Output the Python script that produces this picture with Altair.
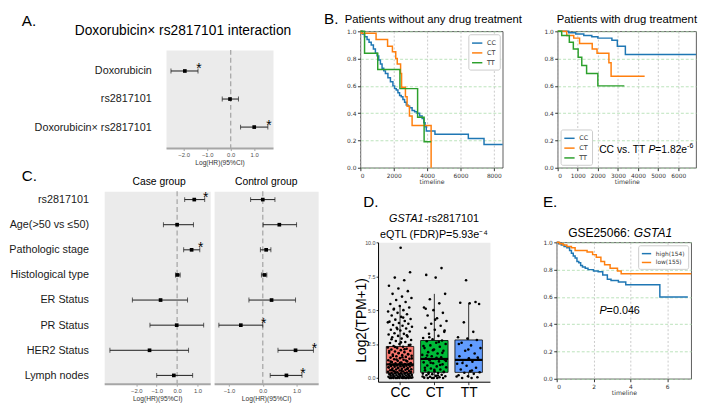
import altair as alt
import pandas as pd

FONT = "Liberation Sans"
MPL = "DejaVu Sans"

# ---------------- Panel A data ----------------
a_terms = ["Doxorubicin", "rs2817101", "Doxorubicin\u00d7 rs2817101"]
a_est = [-1.95, -0.03, 1.0]
a_lo = [-2.54, -0.36, 0.42]
a_hi = [-1.39, 0.33, 1.58]
a_star = [1, 0, 1]

# ---------------- Panel C data ----------------
c_terms = ["rs2817101", "Age(>50 vs \u226450)", "Pathologic stage", "Histological type",
           "ER Status", "PR Status", "HER2 Status", "Lymph nodes"]
case_est = [0.84, 0.0, 0.71, 0.02, -0.81, -0.02, -1.35, -0.16]
case_lo = [0.37, -0.67, 0.32, -0.08, -2.19, -1.33, -3.29, -1.0]
case_hi = [1.35, 0.8, 1.11, 0.15, 0.51, 1.3, 0.56, 0.76]
case_star = [1, 0, 1, 0, 0, 0, 0, 0]
ctrl_est = [0.0, 0.49, 0.1, 0.05, 0.26, -0.65, 0.97, 0.7]
ctrl_lo = [-0.36, 0.01, -0.07, -0.04, -0.41, -1.3, 0.45, 0.22]
ctrl_hi = [0.36, 1.0, 0.24, 0.12, 0.97, 0.0, 1.5, 1.16]
ctrl_star = [0, 0, 0, 0, 0, 1, 1, 1]

# ---------------- Panel B data ----------------
geno = ["CC", "CT", "TT"]
km_colors = ["#1f77b4", "#ff7f0e", "#2ca02c"]

bl_cc_t = [0, 120, 250, 400, 520, 650, 780, 900, 1000, 1100, 1200, 1300, 1400, 1500, 1650, 1800,
           1950, 2050, 2150, 2250, 2350, 2450, 2550, 2650, 2750, 2850, 2950, 3100, 3250, 3400,
           3550, 3700, 3800, 3880, 3950, 4470, 6470, 7410, 8530]
bl_cc_s = [1.0, 0.98, 0.96, 0.94, 0.92, 0.90, 0.87, 0.84, 0.82, 0.79, 0.76, 0.73, 0.71, 0.69,
           0.66, 0.63, 0.60, 0.58, 0.57, 0.55, 0.53, 0.52, 0.50, 0.48, 0.46, 0.45, 0.44, 0.42,
           0.41, 0.40, 0.38, 0.36, 0.33, 0.30, 0.27, 0.245, 0.215, 0.17, 0.17]
bl_ct_t = [0, 60, 940, 1630, 1920, 2120, 2210, 2410, 2470, 2700, 2800, 2940, 3100, 4240]
bl_ct_s = [1.0, 0.985, 0.94, 0.89, 0.85, 0.80, 0.76, 0.69, 0.59, 0.52, 0.45, 0.38, 0.31, 0.0]
bl_tt_t = [0, 250, 1040, 2370, 3430, 3820, 4240]
bl_tt_s = [1.0, 0.84, 0.72, 0.58, 0.37, 0.19, 0.19]

br_cc_t = [0, 550, 900, 1300, 1700, 2000, 2700, 2970, 3370, 6890]
br_cc_s = [1.0, 0.99, 0.98, 0.97, 0.96, 0.95, 0.935, 0.89, 0.83, 0.83]
br_ct_t = [0, 450, 800, 1090, 1720, 1960, 2550, 2660, 4330]
br_ct_s = [1.0, 0.97, 0.95, 0.91, 0.87, 0.84, 0.77, 0.67, 0.67]
br_tt_t = [0, 200, 580, 780, 1020, 1200, 1440, 2000, 3320]
br_tt_s = [1.0, 0.97, 0.92, 0.87, 0.81, 0.75, 0.69, 0.60, 0.60]

# ---------------- Panel D data ----------------
d_pos = [1, 2, 3]
d_whislo = [0.0, 0.0, 0.0]
d_q1 = [0.35, 0.41, 0.41]
d_med = [1.0, 1.4, 1.33]
d_q3 = [2.32, 2.76, 2.8]
d_whishi = [5.3, 6.2, 5.5]
d_colors = ["#F8766D", "#00BA38", "#619CFF"]
cc_vals = [0, 0, 0, 0, 0, 0, 0, 0.01, 0.02, 0.03, 0.05, 0.06, 0.08, 0.1, 0.11, 0.13, 0.15, 0.17,
           0.18, 0.2, 0.22, 0.24, 0.25, 0.27, 0.29, 0.3, 0.31, 0.33, 0.34, 0.35,
           0.37, 0.4, 0.42, 0.45, 0.47, 0.5, 0.52, 0.55, 0.57, 0.6, 0.62, 0.64, 0.67, 0.7, 0.72,
           0.74, 0.77, 0.8, 0.82, 0.84, 0.86, 0.88, 0.9, 0.92, 0.94, 0.95, 0.97, 0.98, 0.99, 1.0,
           1.03, 1.07, 1.1, 1.14, 1.18, 1.22, 1.26, 1.3, 1.34, 1.38, 1.42, 1.46, 1.5, 1.55, 1.6,
           1.64, 1.68, 1.72, 1.77, 1.82, 1.86, 1.9, 1.95, 2.0, 2.05, 2.1, 2.15, 2.2, 2.25, 2.3,
           2.36, 2.42, 2.5, 2.58, 2.65, 2.72, 2.8, 2.9, 3.0, 3.05, 3.1, 3.2, 3.25, 3.3, 3.42, 3.5,
           3.55, 3.65, 3.7, 3.78, 3.85, 3.9, 4.0, 4.05, 4.15, 4.2, 4.3, 4.35, 4.5, 4.6, 4.7, 4.8,
           4.9, 5.0, 5.1, 5.2, 5.3, 5.45, 5.6, 5.75, 5.9, 6.0, 6.2, 6.4, 6.6, 6.8, 7.2, 7.4, 7.8, 9.6,
           0, 0, 0, 0.04, 0.09, 0.14, 0.19, 0.23, 0.28, 0.36, 0.41, 0.46, 0.53, 0.58, 0.66, 0.73,
           0.79, 0.87, 0.93, 1.05, 1.12, 1.2, 1.28, 1.36, 1.44, 1.52, 1.62, 1.74, 1.84, 1.98, 2.12,
           2.28, 2.45, 2.62, 2.85, 3.15, 3.6, 4.1, 4.45, 5.05]
ct_vals = [0, 0, 0, 0, 0.02, 0.05, 0.08, 0.12, 0.15, 0.2, 0.24, 0.28, 0.32, 0.36, 0.4, 0.45, 0.5,
           0.56, 0.62, 0.7, 0.78, 0.85, 0.92, 1.0, 1.08, 1.15, 1.22, 1.3, 1.35, 1.4, 1.45, 1.52,
           1.6, 1.7, 1.8, 1.9, 2.0, 2.1, 2.2, 2.3, 2.4, 2.5, 2.6, 2.7, 2.76, 2.85, 2.95, 3.1, 3.25,
           3.4, 3.55, 3.7, 3.85, 4.0, 4.2, 4.4, 4.6, 4.8, 5.0, 5.2, 5.5, 5.8, 6.2, 7.4, 7.6, 8.1,
           0, 0.1, 0.18, 0.3, 0.43, 0.6, 0.75, 0.95, 1.12, 1.25, 1.48, 1.65, 1.85, 2.05, 2.35,
           2.65, 3.0, 3.5, 4.3, 5.1]
tt_vals = [0, 0, 0.05, 0.12, 0.2, 0.3, 0.38, 0.42, 0.5, 0.62, 0.75, 0.9, 1.05, 1.2, 1.3, 1.35, 1.45,
           1.6, 1.8, 2.0, 2.2, 2.4, 2.6, 2.8, 2.9, 3.0, 3.4, 4.1, 5.45, 5.5, 5.55, 5.6, 7.2,
           0.1, 0.55, 1.1, 1.5, 2.1, 2.5]

# ---------------- Panel E data ----------------
e_groups = ["high(154)", "low(155)"]
e_high_t = [0, 0.1, 0.25, 0.4, 0.55, 0.7, 0.8, 0.9, 1.0, 1.1, 1.2, 1.3, 1.4, 1.55, 1.7, 2.0, 2.25,
            2.5, 2.75, 2.95, 3.35, 3.75, 5.6, 7.12]
e_high_s = [1.0, 0.99, 0.98, 0.97, 0.96, 0.94, 0.92, 0.90, 0.885, 0.86, 0.85, 0.83, 0.82, 0.81,
            0.80, 0.79, 0.785, 0.76, 0.73, 0.72, 0.71, 0.69, 0.60, 0.60]
e_low_t = [0, 0.15, 0.35, 0.55, 0.8, 1.0, 1.65, 1.95, 2.15, 2.4, 2.6, 2.9, 3.3, 3.5, 7.3]
e_low_s = [1.0, 0.99, 0.98, 0.97, 0.96, 0.94, 0.93, 0.91, 0.89, 0.86, 0.835, 0.81, 0.79, 0.77, 0.77]


# ================= helpers =================
def spacer(w, h, title=None):
    c = alt.Chart(pd.DataFrame({"v": [0]})).mark_point(size=0, opacity=0, strokeWidth=0).encode(
        x=alt.X("v:Q", axis=None, scale=alt.Scale(domain=[0, 1])),
        y=alt.Y("v:Q", axis=None, scale=alt.Scale(domain=[0, 1])))
    props = dict(width=w, height=h,
                 view=alt.ViewBackground(fill="transparent", stroke="transparent"))
    if title is not None:
        props["title"] = title
    return c.properties(**props)


def letter(txt, dx, offset):
    return alt.TitleParams(text=txt, anchor="start", frame="group", dx=dx, fontSize=15.5,
                           offset=offset)


def piece(txt, dx, offset, fs, italic):
    return alt.TitleParams(text=txt, anchor="start", frame="group", dx=dx, fontSize=fs,
                           fontStyle="italic" if italic else "normal", offset=offset)


def forest_chart(terms, est, lo, hi, star, xdom, xticks, w, h, padding, yaxis, title):
    df = pd.DataFrame({"term": terms, "est": est, "lo": lo, "hi": hi, "star": star})
    xs = alt.Scale(domain=xdom, nice=False, zero=False)
    xax = alt.Axis(values=xticks, format=".1f", labelFont=FONT, labelFontSize=6,
                   labelColor="#4d4d4d", labelPadding=1.5, tickSize=2.5, tickColor="#8c8c8c",
                   tickWidth=0.8, domainColor="#a6a6a6", domainWidth=2, grid=False,
                   title="Log(HR)(95%CI)", titleFont=FONT, titleFontSize=6.8,
                   titleFontWeight="normal", titleColor="#333333", titlePadding=2)
    ys = alt.Scale(type="point", domain=terms, padding=padding)

    def X(f):
        return alt.X(f, type="quantitative", scale=xs, axis=xax)

    Y = alt.Y("term:N", scale=ys, axis=yaxis)
    zero = alt.Chart(pd.DataFrame({"z": [0.0]})).mark_rule(
        color="#a8a8a8", strokeDash=[5, 3], strokeWidth=1.3).encode(x=X("z"))
    base = alt.Chart(df)
    err = base.mark_rule(color="#1a1a1a", strokeWidth=1).encode(x=X("lo"), x2="hi:Q", y=Y)
    capl = base.mark_tick(color="#1a1a1a", thickness=1, size=5).encode(x=X("lo"), y=Y)
    caph = base.mark_tick(color="#1a1a1a", thickness=1, size=5).encode(x=X("hi"), y=Y)
    pts = base.mark_square(size=14, color="black", opacity=1).encode(x=X("est"), y=Y)
    stars = base.transform_filter("datum.star == 1").mark_text(
        text="*", fontSize=14, font=FONT, dx=1, dy=2.5, baseline="alphabetic",
        align="center", color="black").encode(x=X("hi"), y=Y)
    return alt.layer(zero, err, capl, caph, pts, stars).properties(
        width=w, height=h, title=title,
        view=alt.ViewBackground(fill="#ebebeb", stroke="transparent"))


def km_chart(series, names, colors, xdom, xticks, w, h, legend, title, notes):
    rows = []
    for name, ts, ss in series:
        for t, s in zip(ts, ss):
            rows.append({"t": t, "s": s, "g": name})
    df = pd.DataFrame(rows)
    xs = alt.Scale(domain=xdom, nice=False, zero=False)
    ys = alt.Scale(domain=[0, 1], nice=False, zero=False)
    xax = alt.Axis(values=xticks, format="d", labelFont=MPL, labelFontSize=6, labelColor="#333333",
                   tickSize=3, tickColor="#333333", domain=False, grid=True,
                   gridColor="#bdbdbd", gridDash=[2, 2], gridWidth=0.8, title="timeline",
                   titleFont=MPL, titleFontSize=6.3, titleFontWeight="normal", titleColor="#333333",
                   labelPadding=1.5, titlePadding=1)
    yax = alt.Axis(values=[0, 0.2, 0.4, 0.6, 0.8, 1.0], format=".1f", labelFont=MPL,
                   labelFontSize=6, labelColor="#333333", tickSize=3, tickColor="#333333",
                   domain=False, grid=True, gridColor="#a9dba9", gridDash=[3, 2],
                   gridWidth=0.8, title=None, labelPadding=1.5)
    lines = alt.Chart(df).mark_line(interpolate="step-after", strokeWidth=1.5).encode(
        x=alt.X("t:Q", scale=xs, axis=xax),
        y=alt.Y("s:Q", scale=ys, axis=yax),
        color=alt.Color("g:N", scale=alt.Scale(domain=names, range=colors), legend=legend))
    layers = [lines]
    for (xv, yv, txt, dx, dy, fs, italic) in notes:
        layers.append(
            alt.Chart(pd.DataFrame({"x": [xv], "y": [yv], "txt": [txt]})).mark_text(
                align="left", baseline="middle", dx=dx, dy=dy, fontSize=fs, font=FONT,
                fontStyle="italic" if italic else "normal", color="black").encode(
                x=alt.X("x:Q", scale=xs, axis=xax), y=alt.Y("y:Q", scale=ys, axis=yax),
                text="txt:N"))
    return alt.layer(*layers).properties(
        width=w, height=h, title=title,
        view=alt.ViewBackground(fill="white", stroke="#333333", strokeWidth=0.8))


def km_legend(orient, fs, size):
    return alt.Legend(title=None, orient=orient, offset=3, padding=3, symbolType="stroke",
                      symbolSize=size, symbolStrokeWidth=1.5, labelFont=MPL, labelFontSize=fs,
                      labelColor="#333333", labelOffset=4, rowPadding=0,
                      strokeColor="#cccccc", fillColor="white", cornerRadius=2)


# ================= Panel A =================
a_yaxis = alt.Axis(title=None, labelFont=FONT, labelFontSize=11, labelColor="#1a1a1a",
                   ticks=False, domain=False, labelPadding=15, labelLimit=300, grid=False)
a_chart = forest_chart(a_terms, a_est, a_lo, a_hi, a_star, [-2.75, 1.8], [-2, -1, 0, 1],
                       109, 100, 0.75, a_yaxis,
                       alt.TitleParams(text="Doxorubicin\u00d7 rs2817101 interaction",
                                       anchor="start", frame="group", dx=-93, fontSize=14,
                                       offset=12))

# ================= Panel C =================
C_H = 196
c_yaxis = alt.Axis(title=None, labelFont=FONT, labelFontSize=11, labelColor="#1a1a1a",
                   ticks=False, domain=False, labelPadding=16, labelLimit=300, grid=False)
c_case = forest_chart(c_terms, case_est, case_lo, case_hi, case_star, [-3.57, 1.62],
                      [-2, -1, 0, 1], 108, C_H, 0.33, c_yaxis,
                      alt.TitleParams(text="Case group", anchor="middle", frame="group", dx=2,
                                      fontSize=10.5, offset=3.3))
c_ctrl = forest_chart(c_terms, ctrl_est, ctrl_lo, ctrl_hi, ctrl_star, [-1.44, 1.64],
                      [-1, 0, 1], 106, C_H, 0.33, None,
                      alt.TitleParams(text="Control group", anchor="middle", frame="group",
                                      fontSize=10.5, offset=3.3))

# ================= Panel B =================
B_H = 139
b_left = km_chart([("CC", bl_cc_t, bl_cc_s), ("CT", bl_ct_t, bl_ct_s), ("TT", bl_tt_t, bl_tt_s)],
                  geno, km_colors, [0, 8530], [0, 2000, 4000, 6000, 8000], 145, B_H,
                  km_legend("top-right", 6.5, 110),
                  alt.TitleParams(text="Patients without any drug treatment", anchor="start",
                                  frame="group", dx=-16, fontSize=11.5, offset=3),
                  [])
bnote_x, bnote_y = 2066, 0.127
b_right = km_chart([("CC", br_cc_t, br_cc_s), ("CT", br_ct_t, br_ct_s), ("TT", br_tt_t, br_tt_s)],
                   geno, km_colors, [0, 6890], [0, 1000, 2000, 3000, 4000, 5000, 6000], 141, B_H,
                   km_legend("bottom-left", 6.5, 110),
                   alt.TitleParams(text="Patients with drug treatment", anchor="middle",
                                   frame="group", fontSize=11.5, offset=2.5),
                   [(bnote_x, bnote_y, "CC vs. TT", 0, 0, 10.5, False),
                    (bnote_x, bnote_y, "P", 50.2, 0, 10.5, True),
                    (bnote_x, bnote_y, "=1.82e", 57.2, 0, 10.5, False),
                    (bnote_x, bnote_y, "-6", 89.6, -4, 7, False)])

# ================= Panel D =================
box_df = pd.DataFrame({"geno": geno, "pos": d_pos, "lo": d_whislo, "q1": d_q1, "med": d_med,
                       "q3": d_q3, "hi": d_whishi})
prow = []
for g, p, vals in [("CC", 1, cc_vals), ("CT", 2, ct_vals), ("TT", 3, tt_vals)]:
    for v in vals:
        prow.append({"geno": g, "pos": p, "val": v})
pts_df = pd.DataFrame(prow)

D_H = 142
dxs = alt.Scale(domain=[0.36, 3.62], nice=False, zero=False)
dys = alt.Scale(domain=[-0.28, 10.0], nice=False, zero=False)
dxax = alt.Axis(values=[1, 2, 3], labelExpr="['','CC','CT','TT'][datum.value]", labelFont=FONT,
                labelFontSize=14, labelColor="black", labelPadding=1, tickSize=3,
                tickColor="#333333", domainColor="black", domainWidth=1, grid=False, title=None)
dyax = alt.Axis(values=[0, 2.5, 5, 7.5, 10], format=".1f", labelFont=FONT, labelFontSize=5.5,
                labelColor="#4d4d4d", labelPadding=1, tickSize=2, tickColor="#333333",
                domainColor="black", domainWidth=1, grid=False, title="Log2(TPM+1)",
                titleFont=FONT, titleFontSize=14, titleFontWeight="normal", titleColor="black",
                titleX=-10, titleY=D_H / 2 + 8, titleAngle=270, titleAlign="center",
                titleBaseline="bottom")


def DX(f):
    return alt.X(f, type="quantitative", scale=dxs, axis=dxax)


def DY(f):
    return alt.Y(f, type="quantitative", scale=dys, axis=dyax)


wlo = alt.Chart(box_df).mark_rule(color="black", strokeWidth=0.8).encode(
    x=DX("pos"), y=DY("lo"), y2="q1:Q")
whi = alt.Chart(box_df).mark_rule(color="black", strokeWidth=0.8).encode(
    x=DX("pos"), y=DY("q3"), y2="hi:Q")
boxes = alt.Chart(box_df).transform_calculate(
    xa="datum.pos - 0.4", xb="datum.pos + 0.4").mark_bar(
    stroke="black", strokeWidth=0.8, opacity=1).encode(
    x=DX("xa"), x2="xb:Q", y=DY("q1"), y2="q3:Q",
    color=alt.Color("geno:N", scale=alt.Scale(domain=geno, range=d_colors), legend=None))
meds = alt.Chart(box_df).transform_calculate(
    xa="datum.pos - 0.4", xb="datum.pos + 0.4").mark_rule(
    color="black", strokeWidth=2.2).encode(x=DX("xa"), x2="xb:Q", y=DY("med"))
dots = alt.Chart(pts_df).transform_window(
    idx="row_number()", groupby=["geno"]).transform_calculate(
    jx="datum.pos + (((datum.idx * 0.618034) % 1) - 0.5) * 0.72").mark_circle(
    size=7, color="black", opacity=1).encode(x=DX("jx"), y=DY("val"))

d_chart = alt.layer(wlo, whi, boxes, meds, dots).properties(
    width=114, height=D_H,
    title=alt.TitleParams(text="eQTL (FDR)P=5.93e\u207b\u2074", anchor="middle", frame="group",
                          fontSize=11, offset=0.7),
    view=alt.ViewBackground(fill="#ebebeb", stroke="transparent"))

# ================= Panel E =================
enote_x, enote_y = 2.32, 0.5
e_chart = km_chart([("high(154)", e_high_t, e_high_s), ("low(155)", e_low_t, e_low_s)],
                   e_groups, km_colors[:2], [0, 7.3], [0, 2, 4, 6], 137, D_H - 3,
                   km_legend("top-right", 6, 90),
                   alt.TitleParams(text="GSE25066:", anchor="start", frame="group",
                                   dx=11.7, fontSize=12.2, offset=0),
                   [(enote_x, enote_y, "P", 0, 0, 11, True),
                    (enote_x, enote_y, "=0.046", 7.3, 0, 11, False)])


# ================= Layout =================
def H(*charts, **kw):
    return alt.hconcat(*charts, **kw).resolve_scale(color="independent")


def V(*charts, **kw):
    return alt.vconcat(*charts, **kw).resolve_scale(color="independent")


topblock = V(spacer(1, 19),
             H(spacer(147, 1, letter("A.", 0, 20.5)), a_chart, spacing=0, bounds="flush"),
             spacing=0, bounds="flush")
crow = H(spacer(80, 1, letter("C.", 0, 7.45)), c_case, c_ctrl, spacing=4, bounds="flush")
leftcol = V(topblock, crow, spacing=0)

brow = H(spacer(37, 1, letter("B.", 0, 3.45)),
         H(b_left, b_right, spacing=56, bounds="flush"), spacing=0, bounds="flush")
deblock = H(spacer(27, 1, letter("D.", 40, 32.75)),
            spacer(28, 1, piece("GSTA1", 39.2, 19.1, 11, True)),
            d_chart,
            spacer(23, 1, piece("-rs2817101", -66.7, 19.1, 11, False)),
            spacer(23, 1, letter("E.", 31, 32.05)),
            spacer(22, 1, piece("GSTA1", 100.5, 2.9, 12.2, True)),
            e_chart, spacing=0, bounds="flush")
rightcol = V(brow, deblock, spacing=8)

chart = H(leftcol, rightcol, spacing=4).properties(padding=0).configure(
    font=FONT).configure_view(stroke="transparent").configure_title(
    fontWeight="normal", color="black", font=FONT)

chart.save("out.html", embed_options={"renderer": "svg", "actions": False})
